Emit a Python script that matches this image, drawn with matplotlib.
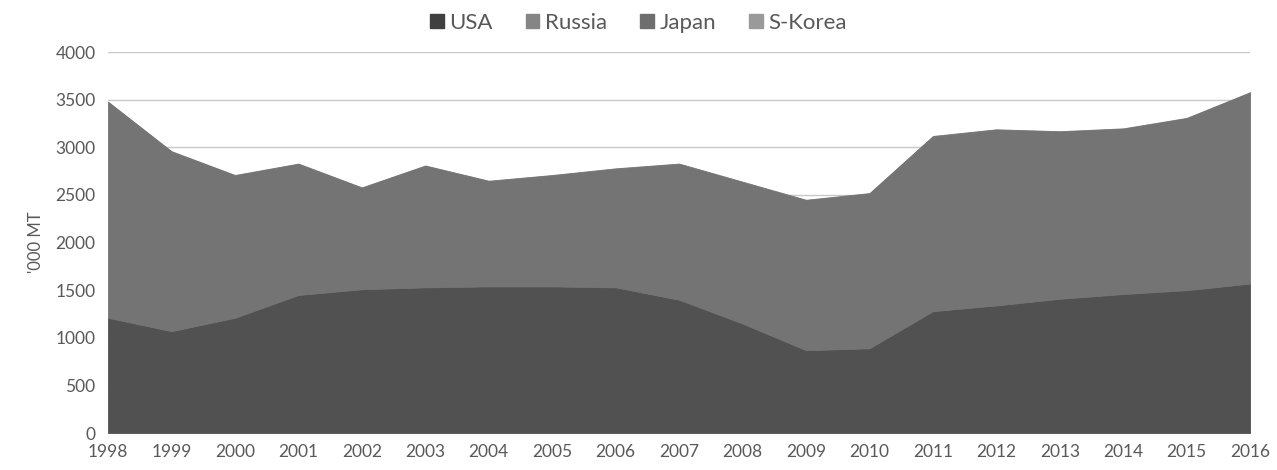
import numpy as np
import matplotlib as mpl
mpl.use('agg')
import matplotlib.pyplot as plt

years = list(range(1998, 2017))
usa = [1210, 1070, 1210, 1450, 1510, 1530, 1540, 1540, 1530, 1400,
       1150, 870, 890, 1280, 1340, 1410, 1460, 1500, 1570]
russia = [2240, 1860, 1470, 1350, 1040, 1250, 1080, 1140, 1220, 1400,
          1460, 1550, 1600, 1810, 1820, 1730, 1710, 1780, 1980]
japan = [20, 20, 20, 20, 20, 20, 20, 20, 20, 20,
         20, 20, 20, 20, 20, 20, 20, 20, 20]
skorea = [10, 10, 10, 10, 10, 10, 10, 10, 10, 10,
          10, 10, 10, 10, 10, 10, 10, 10, 10]
labels = ['USA', 'Russia', 'Japan', 'S-Korea']
fill_colors = ['#515151', '#747474', '#737373', '#757575']
key_colors = ['#404040', '#858585', '#6e6e6e', '#9a9a9a']

plt.rcParams['font.family'] = ['Lato', 'DejaVu Sans']
txt = '#595959'

fig = plt.figure(figsize=(12.77, 4.70), dpi=100)
ax = fig.add_axes([0.0846, 0.0787, 0.8944, 0.8103])

polys = ax.stackplot(years, usa, russia, japan, skorea, labels=labels,
                     colors=fill_colors, zorder=2)
# hide the antialiasing seams between stacked layers
for p, c in zip(polys, fill_colors):
    p.set_edgecolor(c)
    p.set_linewidth(0.6)

ax.set_xlim(1998, 2016)
ax.set_ylim(0, 4000)
ax.set_yticks(range(0, 4001, 500))
ax.set_xticks(years)
ax.grid(axis='y', color='#c8c8c8', linewidth=1, zorder=0)
ax.set_axisbelow(True)
for s in ax.spines.values():
    s.set_visible(False)
ax.tick_params(length=0, labelsize=12.5, colors=txt)
ax.tick_params(axis='y', pad=9)
ax.tick_params(axis='x', pad=8)
ax.set_ylabel("'000 MT", fontsize=12, color=txt, labelpad=8)

handles = [plt.Rectangle((0, 0), 1, 1, color=c) for c in key_colors]
fig.legend(handles, labels, loc='upper center', bbox_to_anchor=(0.5, 1.015),
           ncol=4, frameon=False, fontsize=16, labelcolor=txt,
           handlelength=0.6, handleheight=0.6, handletextpad=0.25,
           columnspacing=1.5)

fig.savefig('out.png', dpi=100)
